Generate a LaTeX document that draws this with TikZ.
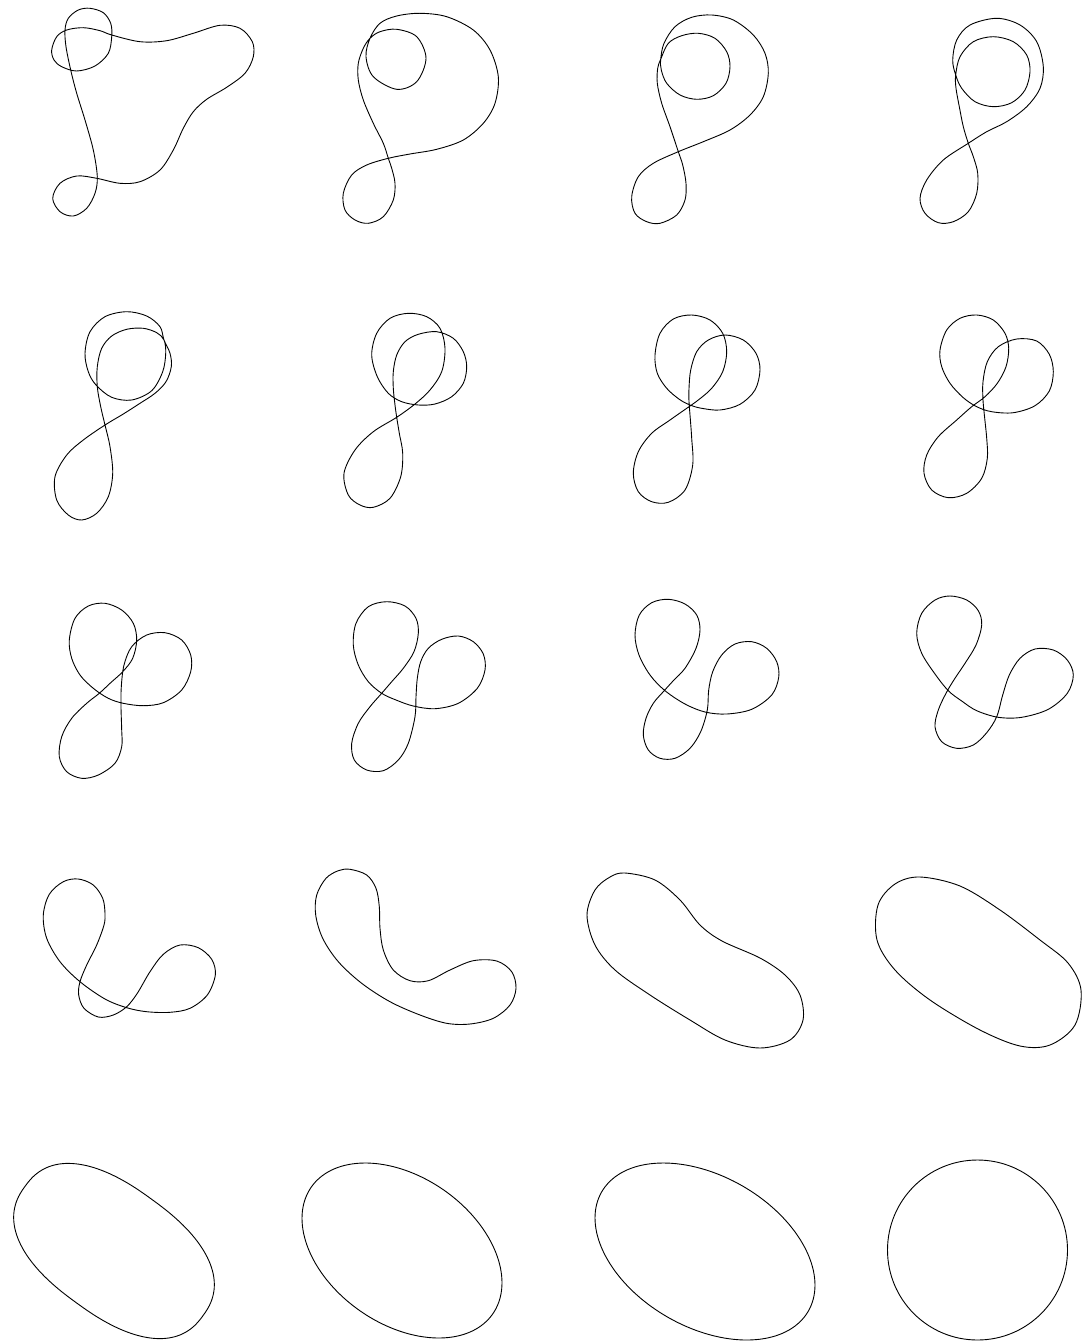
\documentclass[tikz,border=0pt]{standalone}
\begin{document}
\begin{tikzpicture}[x=1pt,y=-1pt,
  curve/.style={draw=black, line width=0.9pt, line join=round}]
\useasboundingbox (0,0) rectangle (1082,1343);
% panel 1
\draw[curve] plot[smooth cycle, tension=0.55] coordinates {
(51.7,50) (56.7,36.7) (66.7,30) (83.3,27.7) (100,30.7) (111.7,35) (140,41.7) (166.7,40.7) (193.3,33.3) (220,25.3) (240,28.3) (252.3,41.7) (253.3,56.7) (245,73.3) (226.7,87.3) (206.7,99.3) (193.3,111.7) (183.3,128.3) (173.3,150) (160,170) (140,181.7) (120,183.3) (96.7,178.3) (76.7,176) (60,183.3) (52.7,198.3) (60,211.7) (73.3,216) (86.7,208.3) (95,193.3) (97.3,176.7) (93.3,150) (85,120) (76.7,93.3) (70.7,70) (66,46.7) (65,30) (68.3,18.3) (78.3,10) (90,8.3) (103.3,12.7) (110.7,23.3) (111.7,36.7) (108.3,53.3) (95,66) (76.7,71) (61.7,66.7) (54,60)};
% panel 2
\draw[curve] plot[smooth cycle, tension=0.55] coordinates {
(388.3,158.3) (383.3,143.3) (373.3,123.3) (363.3,100) (358.3,80) (358.3,63.3) (363.3,48.3) (370,38.3) (380,31.7) (396.7,29.3) (416.7,36.7) (426,58.3) (416.7,81.7) (396.7,89.3) (373.3,76.7) (366,56.7) (370,38.3) (380,23.3) (396.7,16) (420,13.3) (446.7,16.7) (473.3,30) (490,50) (498.3,76.7) (495,103.3) (483.3,123.3) (463.3,140) (436.7,149.3) (410,154) (388.3,158.3) (366.7,165) (351.7,175) (343.3,193.3) (345,210) (355,220) (368.3,223.3) (383.3,216.7) (393.3,200) (395,183.3) (391.7,168.3)};
% panel 3
\draw[curve] plot[smooth cycle, tension=0.55] coordinates {
(678.3,151.7) (670,126.7) (661.7,103.3) (657.3,83.3) (657.7,68.3) (660.7,59.3) (668.3,43.3) (681.7,35.7) (698.3,33.3) (715,38.3) (726.7,51.7) (730,66.7) (726,83.3) (713.3,95.7) (696.7,99.3) (680,95) (666.7,83.3) (661.3,70) (660.7,59.3) (664,43.3) (675,26.7) (691.7,17.3) (711.7,15) (733.3,20) (753.3,35) (765,53.3) (768.3,73.3) (763.3,96.7) (750,115) (730,130) (703.3,141.7) (678.3,151.7) (653.3,163.3) (638.3,176.7) (631.7,196.7) (635,213.3) (646.7,221.7) (660,223.3) (676.7,215) (685,200) (686,183.3) (682.7,165)};
% panel 4
\draw[curve] plot[smooth cycle, tension=0.55] coordinates {
(968.3,143.3) (963.3,126.7) (959.3,106.7) (956,88.3) (955.7,75) (960,56.7) (973.3,41.7) (993.3,36.7) (1013.3,41.7) (1026.7,55) (1030,71.7) (1025,90) (1011.7,102.7) (993.3,106.7) (975,101.7) (961.7,88.3) (955.7,75) (952.7,60) (956.7,40) (970,25) (996.7,18.3) (1020,25) (1036.7,41.7) (1043.3,66.7) (1040,88.3) (1026.7,106.7) (1006.7,121.7) (986.7,131.7) (968.3,143.3) (943.3,160) (926.7,180) (920,198.3) (925,213.3) (938.3,222.7) (953.3,221.7) (968.3,211.7) (976.7,193.3) (977.7,173.3) (973.3,156.7)};
% panel 5
\draw[curve] plot[smooth cycle, tension=0.55] coordinates {
(105,425) (100.7,406.7) (97.3,386.7) (97.3,366.7) (101.7,348.3) (111.7,336) (126.7,329.3) (143.3,328.3) (156.7,332.7) (164,340) (165.7,353.3) (162.7,371.7) (151.7,390.7) (131.7,400) (111.7,397.3) (96,385) (88.3,371.7) (85,353.3) (90,331.7) (105,316.7) (126.7,311.7) (146.7,316) (160,326.7) (164,340) (170,353.3) (171.3,366.7) (166,381.7) (155,393.3) (140,403.3) (123.3,414) (105,425) (83.3,440) (66.7,455) (55,476.7) (56.7,500) (68.3,515) (81.7,520) (96.7,513.3) (108.3,496.7) (112.7,473.3) (110,446.7)};
% panel 6
\draw[curve] plot[smooth cycle, tension=0.55] coordinates {
(396.7,417.3) (395,405) (393.3,388.3) (393.3,371.7) (396.7,355) (405,341.7) (418.3,334.3) (436.7,331.7) (453.3,338.3) (463.3,351.7) (466.7,366.7) (463.3,383.3) (451.7,396.7) (435,404) (418.3,405) (401.7,401.7) (388.3,393.3) (377.3,376.7) (371.7,355) (376.7,333.3) (390,318.3) (408.3,313.3) (426.7,316.7) (440,328.3) (445,348.3) (441.7,371.7) (430,390) (415,404) (396.7,417.3) (373.3,431.7) (355,450) (344,473.3) (348.3,495) (360,505) (373.3,507.3) (390,498.3) (400.7,476.7) (402.7,453.3) (399.3,433.3)};
% panel 7
\draw[curve] plot[smooth cycle, tension=0.55] coordinates {
(690,415) (689,401.7) (689,388.3) (690.7,370) (696.7,351.7) (708.3,340) (725,335) (743.3,340) (756,353.3) (760,370) (755,390) (740,404.3) (720,410) (701.7,408.3) (690,405) (679.3,399.3) (666.7,388.3) (657.3,373.3) (655,355) (660,333.3) (673.3,319) (691.7,315) (710,320) (722.7,333.3) (726.7,351.7) (722.7,371.7) (711.7,388.3) (698.3,400) (686.7,408.3) (670,420) (651.7,433.3) (638.3,451.7) (633.3,473.3) (638.3,491.7) (651.7,501.7) (668.3,502.3) (685,490) (692.7,465) (691.7,438.3)};
% panel 8
\draw[curve] plot[smooth cycle, tension=0.55] coordinates {
(986.7,438.3) (984.7,418.3) (983,400) (983,381.7) (987.3,361.7) (998.3,346.7) (1016.7,339) (1036.7,341) (1049.3,354.3) (1053.3,371.7) (1049.3,391) (1035,405.7) (1013.3,412.7) (991.7,411.7) (976.7,406.7) (963.3,397.7) (950,383.3) (941.7,366.7) (940,350) (946.7,330) (960,318.3) (976.7,315) (993.3,320) (1005,333.3) (1008.7,348.3) (1006,366.7) (997.3,383.3) (985,396.7) (971.7,406.7) (956.7,420) (938.3,436.7) (926.7,455) (924,473.3) (931.7,490) (948.3,497.7) (966.7,493.3) (981.7,478.3) (987.3,458.3)};
% panel 9
\draw[curve] plot[smooth cycle, tension=0.55] coordinates {
(121.7,730) (121,706.7) (121.3,686.7) (124,665) (131.7,646.7) (146.7,635) (165,632.7) (181.7,640) (190.7,655) (190.7,671.7) (181.7,690) (163.3,702.7) (143.3,705.7) (123.3,703.3) (108.3,698.3) (93.3,688.3) (80,675) (71.7,658.3) (69.3,640) (75,618.3) (88.3,606) (105,603.3) (121.7,610) (133.3,623.3) (136.7,640) (132.7,658.3) (122.7,671.7) (110.7,682.7) (99.3,693.3) (86.7,703.3) (71.7,718.3) (61.7,736.7) (59.3,756.7) (66.7,771.7) (81.7,778.3) (98.3,775) (115,763.3) (121.7,746.7)};
% panel 10
\draw[curve] plot[smooth cycle, tension=0.55] coordinates {
(415,716.7) (416,696.7) (417.3,678.3) (420.7,661.7) (428.3,648.3) (441.7,639.3) (458.3,636) (473.3,641.7) (483.3,654) (485,670) (477.3,688.3) (458.3,703.3) (435,708.7) (413.3,706) (396,700) (381.7,693.3) (368.3,681.7) (358.3,665) (353.3,645) (356,623.3) (368.3,606.7) (386.7,601.7) (405,606) (416,618.3) (418.3,633.3) (414,651.7) (403.3,668.3) (391.7,681.7) (381.7,693.3) (370,706.7) (358.3,723.3) (351.7,743.3) (354.3,760) (366.7,770) (383.3,770.7) (398.3,760) (408.3,743.3)};
% panel 11
\draw[curve] plot[smooth cycle, tension=0.55] coordinates {
(707.3,710) (708.7,690) (712.7,671.7) (721.7,655) (735,644) (751.7,641.7) (766.7,648.3) (776.7,661.7) (778.7,677.3) (771.7,695) (751.7,709.3) (726.7,714) (705,712) (685,704) (665,690.7) (650,675) (639,655) (635,635) (639.3,615) (651.7,602.7) (668.3,599.3) (685,604) (696.7,615) (700,630) (696,648.3) (685,668.3) (673.3,680.7) (663.3,691.7) (653.3,703.3) (646,718.3) (643.3,735) (648.3,750) (660,758.3) (675,758.3) (690,748.3) (700.7,731.7)};
% panel 12
\draw[curve] plot[smooth cycle, tension=0.55] coordinates {
(996.7,716.7) (1002.7,695) (1009.3,675) (1020,658.3) (1035,649) (1053.3,650) (1067.3,660) (1073.3,675) (1067.3,693.3) (1048.3,709.3) (1021.7,717.3) (998.3,717.3) (976.7,710.7) (961.7,701) (948.3,690.7) (935,674) (921.7,653.3) (916.7,633.3) (921.7,613.3) (935,600) (950,596) (966.7,600) (978.3,610.7) (981.7,625) (976,645) (965,663.3) (954.3,679.3) (946,693.3) (938.3,710) (935,726.7) (941.7,741.7) (956.7,748.3) (973.3,745) (986.7,732.7)};
% panel 13
\draw[curve] plot[smooth cycle, tension=0.55] coordinates {
(105,913.3) (104,925) (96.7,945) (86.7,965) (80,981.7) (78.7,995) (84,1008.3) (98.3,1017) (113.3,1015) (126.7,1006.7) (137.3,993.3) (150,971.7) (163.3,954.3) (180,945) (198.3,947.7) (211.7,959.3) (215.3,975) (207.3,995) (190,1008.3) (170,1012.3) (146.7,1011.7) (126.7,1007.7) (105,999) (80,981.7) (60,961.7) (46.7,938.3) (43.3,915) (49.3,894.3) (63.3,881.7) (78.3,879) (93.3,885) (102.7,898.3)};
% panel 14
\draw[curve] plot[smooth cycle, tension=0.55] coordinates {
(350,869.3) (366.7,875) (376,888.3) (379.3,906.7) (380,928.3) (383.3,950) (393.3,970) (410,980.7) (428.3,980.7) (450,970) (473.3,960.7) (496.7,961) (511.7,971.7) (516,988.3) (510,1005) (493.3,1018.3) (470,1024) (446.7,1023.3) (420,1015) (390,1001.7) (361.7,983.3) (338.3,961.7) (322.7,938.3) (315.7,915) (316.7,895) (326,878.3) (338.3,870.7)};
% panel 15
\draw[curve] plot[smooth cycle, tension=0.55] coordinates {
(625,873) (655,880) (680,900) (700,925) (722,941) (760,958) (785,975) (800,995) (803,1020) (790,1040) (760,1048) (725,1040) (690,1020) (650,995) (615,970) (595,945) (587,915) (595,890) (610,877)};
% panel 16
\draw[curve] plot[smooth cycle, tension=0.55] coordinates {
(920,877) (960,886) (1000,910) (1040,940) (1068,963) (1081,990) (1075,1025) (1050,1045) (1020,1046) (980,1030) (930,1000) (895,970) (877,940) (878,905) (895,884)};
% panel 17
\draw[curve] plot[smooth cycle, domain=2.5:357.5, samples=72, variable=\t]
  ({114 + 110*sign(cos(\t))*pow(abs(cos(\t)),0.8333)*cos(36) - 64*sign(sin(\t))*pow(abs(sin(\t)),0.8333)*sin(36)},
   {1251 + 110*sign(cos(\t))*pow(abs(cos(\t)),0.8333)*sin(36) + 64*sign(sin(\t))*pow(abs(sin(\t)),0.8333)*cos(36)});
% panel 18
\draw[curve] plot[smooth cycle, domain=0:355, samples=72, variable=\t]
  ({402 + 110.7*cos(\t)*cos(35) - 73.5*sin(\t)*sin(35)}, {1250.5 + 110.7*cos(\t)*sin(35) + 73.5*sin(\t)*cos(35)});
% panel 19
\draw[curve] plot[smooth cycle, domain=0:355, samples=72, variable=\t]
  ({705 + 119.3*cos(\t)*cos(30) - 75.5*sin(\t)*sin(30)}, {1251.5 + 119.3*cos(\t)*sin(30) + 75.5*sin(\t)*cos(30)});
% panel 20
\draw[curve] (977.5,1250) circle[radius=90];
\end{tikzpicture}
\end{document}
